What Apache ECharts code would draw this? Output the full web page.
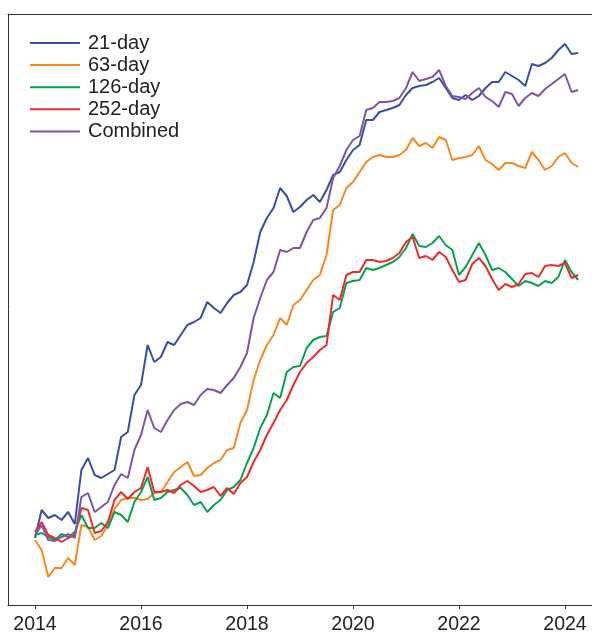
<!DOCTYPE html>
<html>
<head>
<meta charset="utf-8">
<script src="https://cdn.jsdelivr.net/npm/echarts@6/dist/echarts.min.js"></script>
<style>
  html, body { margin: 0; padding: 0; background: #fff; }
  #chart { width: 592px; height: 635px; }
</style>
</head>
<body>
<div id="chart"></div>
<script>
// 采样起点（年）与步长，每 1/8 年一个点
const START_YEAR = 2014
const STEP = 0.125

// 横轴刻度
const yearTicks = [2014, 2016, 2018, 2020, 2022, 2024]

// 各信号累计收益（任意单位，从图上读出）
const day21 = [67,95,87,90,85,93,81,135,147,130, 127,131,135,168,173,210,220,260,243,248,
  263,260,270,280,283,287,303,297,292,302, 310,313,320,343,373,387,397,417,409,393,
  398,405,410,403,415,430,433,445,455,460, 485,485,493,495,497,500,510,517,519,520,
  523,527,517,507,505,510,505,509,517,523, 523,533,529,525,519,541,539,542,547,555,
  561,551,552]
const day63 = [65,55,28,37,37,47,40,80,78,65, 69,80,96,105,107,107,105,106,112,113,
  123,133,138,143,129,130,137,142,145,155, 157,182,195,225,245,260,270,287,280,300,
  305,315,325,330,350,395,400,417,423,433, 443,448,450,448,448,450,455,467,459,462,
  457,468,465,445,447,448,450,459,445,441, 435,442,442,439,437,453,445,435,439,448,
  452,442,438]
const day126 = [70,72,68,65,71,68,73,90,77,77, 82,77,93,90,83,103,113,128,105,107,
  113,115,117,110,100,103,93,100,105,115, 118,125,142,157,177,190,212,207,233,238,
  239,257,265,268,269,293,297,322,324,325, 337,335,337,340,343,348,357,371,359,358,
  362,369,360,355,330,338,350,362,350,335, 337,333,326,319,324,322,319,324,322,328,
  345,333,325]
const day252 = [73,83,70,67,63,67,70,97,95,72, 74,83,105,113,106,113,117,138,113,113,
  115,112,120,124,119,113,115,118,109,117, 111,122,128,143,155,170,182,195,205,220,
  233,242,248,255,260,310,305,330,333,333, 345,345,343,344,347,352,363,368,347,349,
  345,353,348,335,323,325,341,347,339,326, 315,321,318,321,331,332,328,339,340,339,
  342,327,330]
const combined = [70,80,65,64,68,71,67,108,112,93, 98,103,120,131,127,155,170,195,177,173,
  185,195,201,203,200,210,216,215,212,220, 227,238,252,287,307,325,333,355,353,357,
  357,373,385,387,397,427,439,455,465,469, 495,497,503,503,504,507,517,533,524,526,
  528,535,519,509,508,506,512,517,508,504, 498,513,511,499,507,512,509,516,521,526,
  531,513,515]

const seriesDefs = [
  { name: '21-day', data: day21, color: '#3b4ea2' },
  { name: '63-day', data: day63, color: '#f7891f' },
  { name: '126-day', data: day126, color: '#08a24f' },
  { name: '252-day', data: day252, color: '#ee2a2b' },
  { name: 'Combined', data: combined, color: '#7f55a6' }
]

const toPairs = arr => arr.map((v, i) => [START_YEAR + i * STEP, v])

const axisColor = '#333'
const fontFamily = '"Liberation Sans", Arial, sans-serif'

const chart = echarts.init(document.getElementById('chart'))

const option = {
  animation: false,
  backgroundColor: '#fff',
  textStyle: { fontFamily },
  grid: { left: 8, right: 0, top: 14, bottom: 30, containLabel: false },
  legend: {
    orient: 'vertical',
    left: 25,
    top: 28,
    itemWidth: 50,
    itemHeight: 14,
    itemGap: 2.1,
    icon: 'path://M0,7 L50,7 L50,9 L0,9 Z',
    textStyle: { fontSize: 20, color: '#222', fontFamily, padding: [0, 0, 0, 3] },
    data: seriesDefs.map(s => s.name)
  },
  xAxis: [
    {
      type: 'value',
      position: 'bottom',
      min: 2013.49,
      max: 2024.51,
      splitLine: { show: false },
      axisLine: { show: true, onZero: false, lineStyle: { color: axisColor, width: 1 } },
      axisTick: { show: true, length: 4, customValues: yearTicks, lineStyle: { color: axisColor } },
      axisLabel: {
        customValues: yearTicks,
        fontSize: 19.5,
        color: '#222',
        margin: 10,
        formatter: v => String(Math.round(v))
      }
    },
    {
      type: 'value',
      position: 'top',
      min: 2013.49,
      max: 2024.51,
      splitLine: { show: false },
      axisLine: { show: true, onZero: false, lineStyle: { color: axisColor, width: 1 } },
      axisTick: { show: false },
      axisLabel: { show: false }
    }
  ],
  yAxis: {
    type: 'value',
    min: 0,
    max: 591,
    splitLine: { show: false },
    axisLine: { show: true, onZero: false, lineStyle: { color: axisColor, width: 1 } },
    axisTick: { show: false },
    axisLabel: { show: false }
  },
  series: seriesDefs.map(s => ({
    name: s.name,
    type: 'line',
    xAxisIndex: 0,
    data: toPairs(s.data),
    symbol: 'none',
    color: s.color,
    lineStyle: { color: s.color, width: 2 }
  }))
}

chart.setOption(option)
</script>
</body>
</html>
